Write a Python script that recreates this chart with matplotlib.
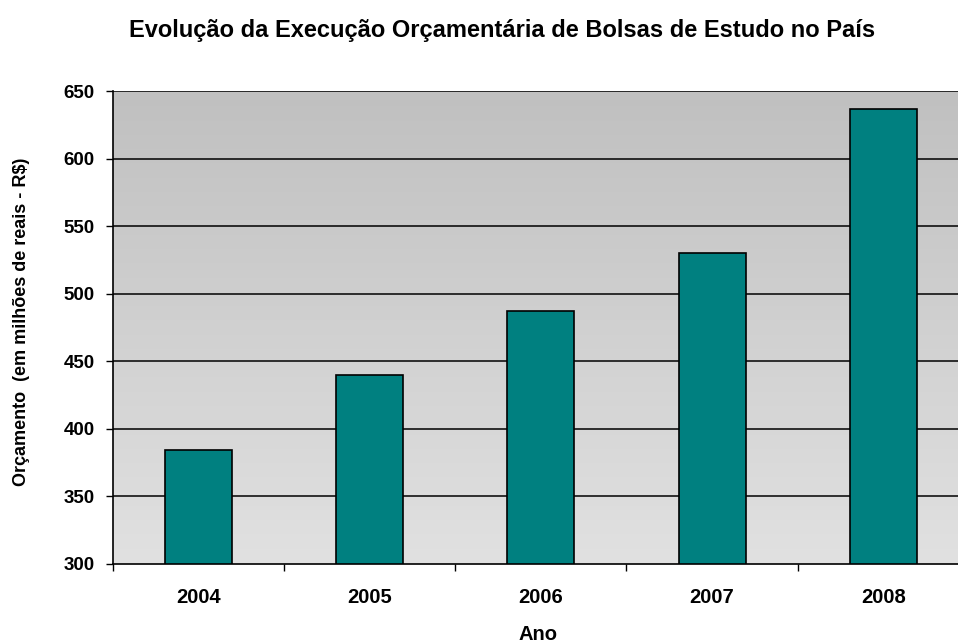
import matplotlib
matplotlib.use("Agg")
import matplotlib.pyplot as plt
import numpy as np

anos = ["2004", "2005", "2006", "2007", "2008"]
orcamento = [384.4, 439.7, 487.5, 530.4, 636.5]
yticks = [300, 350, 400, 450, 500, 550, 600, 650]

plt.rcParams['font.family'] = ['Liberation Sans', 'DejaVu Sans']
plt.rcParams['font.weight'] = 'bold'

fig = plt.figure(figsize=(9.58, 6.44), dpi=100)
ax = fig.add_axes([112.7/958, 1-564/644, (969-112.7)/958, (564-91)/644])

x = np.arange(len(anos))
ax.set_xlim(-0.5, len(anos)-0.5)
ax.set_ylim(300, 650)

# gradient background
grad = np.linspace(0, 1, 256).reshape(-1, 1)
top = np.array([192, 192, 192]) / 255
bot = np.array([225, 225, 225]) / 255
img = top[None, None, :] * (1 - grad[:, :, None]) + bot[None, None, :] * grad[:, :, None]
ax.imshow(img, extent=(-0.5, len(anos)-0.5, 300, 650), aspect='auto', origin='upper', zorder=0)

ax.set_yticks(yticks)
for yv in yticks[1:]:
    ax.axhline(yv, color='black', linewidth=1.1, zorder=1)

ax.bar(x, orcamento, width=0.39, color='#008080', edgecolor='black', linewidth=1.2, zorder=2)

ax.set_xticks(x)
ax.set_xticklabels(anos)
ax.set_xticks(np.arange(-0.5, len(anos)), minor=True)
ax.tick_params(axis='x', which='major', length=0, pad=17, labelsize=14.5)
ax.tick_params(axis='x', which='minor', length=5, width=1, direction='out')
ax.tick_params(axis='y', length=5, width=1, direction='out', labelsize=13.5, pad=8)

for s in ['top', 'right']:
    ax.spines[s].set_visible(False)
ax.spines['left'].set_linewidth(1.2)
ax.spines['bottom'].set_linewidth(1.2)

ax.set_xlabel("Ano", fontsize=14.5, fontweight='bold')
ax.xaxis.set_label_coords((538 - 112.7) / 856.3, -(634 - 564) / 473)
ax.set_ylabel("Orçamento  (em milhões de reais - R$)", fontsize=13, fontweight='bold')
ax.yaxis.set_label_coords((21 - 112.7) / 856.3, (564 - 321.5) / 473)
ax.xaxis.label.set_va('center')
ax.yaxis.label.set_va('center')

fig.text(0.5245, 1-30/644, "Evolução da Execução Orçamentária de Bolsas de Estudo no País",
         ha='center', va='center', fontsize=17, fontweight='bold')

fig.savefig("out.png", dpi=100)
